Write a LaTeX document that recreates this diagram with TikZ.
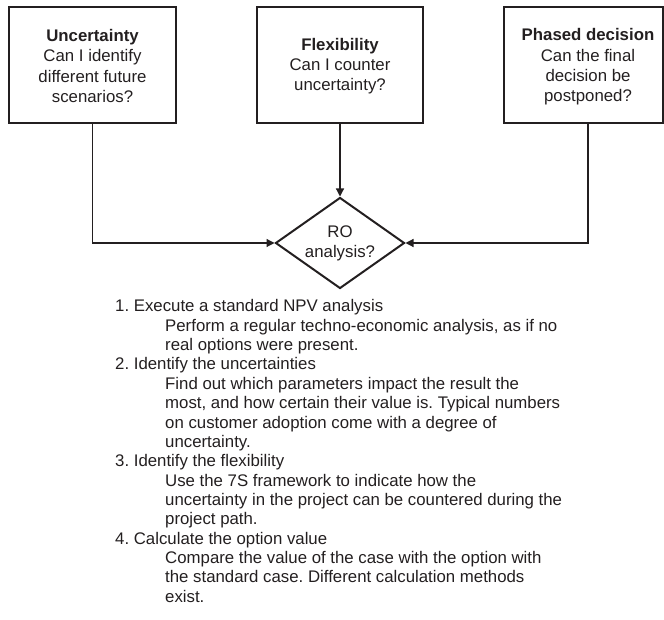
\documentclass[tikz,border=0pt]{standalone}
\usepackage{fontspec}
\setmainfont{Liberation Sans}
\usetikzlibrary{shapes.geometric,arrows.meta}
\definecolor{ink}{HTML}{231F20}
\frenchspacing
\begin{document}
\begin{tikzpicture}[x=1pt,y=-1pt,
  box/.style={draw=ink, line width=2pt, minimum height=116pt, inner sep=0pt},
  btext/.style={align=center, font=\fontsize{16.8}{20.3}\selectfont, text=ink, inner sep=0pt},
  conn/.style={draw=ink, line width=1.2pt, -{Triangle[length=8pt,width=8pt]}},
  listline/.style={anchor=base west, font=\fontsize{16.8}{19.3}\selectfont, text=ink, inner sep=0pt}]
\useasboundingbox (0,0) rectangle (664,620);
% boxes
\node[box, minimum width=167pt] (unc) at (92.5,65) {};
\node[btext] (unct) at (92.5,66) {\textbf{Uncertainty}\\Can I identify\\different future\\scenarios?};
\node[box, minimum width=166pt] (flex) at (340,65) {};
\node[btext] (flext) at (340,66) {\textbf{Flexibility}\\Can I counter\\uncertainty?};
\node[box, minimum width=159pt] (phase) at (583.5,65) {};
\node[btext] (phaset) at (588,67) {\textbf{Phased decision}\\Can the final\\decision be\\postponed?};
% diamond
\node[diamond, draw=ink, line width=2pt, minimum width=129pt, minimum height=91pt, inner sep=0pt, shape aspect=1.4, align=center, font=\fontsize{16.8}{20}\selectfont, text=ink] (ro) at (340,243) {RO\\analysis?};
% connectors
\draw[conn] (unc.south) |- (ro.west);
\draw[conn] (flex.south) -- (ro.north);
\draw[conn] (phaset.center |- phase.south) |- (ro.east);
% list
\node[listline] (l1) at (115,312) {1. Execute a standard NPV analysis};
\node[listline] (l2) at (165,331.33) {Perform a regular techno-economic analysis, as if no};
\node[listline] (l3) at (165,350.67) {real options were present.};
\node[listline] (l4) at (115,370) {2. Identify the uncertainties};
\node[listline] (l5) at (165,389.33) {Find out which parameters impact the result the};
\node[listline] (l6) at (165,408.67) {most, and how certain their value is. Typical numbers};
\node[listline] (l7) at (165,428) {on customer adoption come with a degree of};
\node[listline] (l8) at (165,447.33) {uncertainty.};
\node[listline] (l9) at (115,466.67) {3. Identify the flexibility};
\node[listline] (l10) at (165,486) {Use the 7S framework to indicate how the};
\node[listline] (l11) at (165,505.33) {uncertainty in the project can be countered during the};
\node[listline] (l12) at (165,524.67) {project path.};
\node[listline] (l13) at (115,544) {4. Calculate the option value};
\node[listline] (l14) at (165,563.33) {Compare the value of the case with the option with};
\node[listline] (l15) at (165,582.67) {the standard case. Different calculation methods};
\node[listline] (l16) at (165,602) {exist.};
\end{tikzpicture}
\end{document}
